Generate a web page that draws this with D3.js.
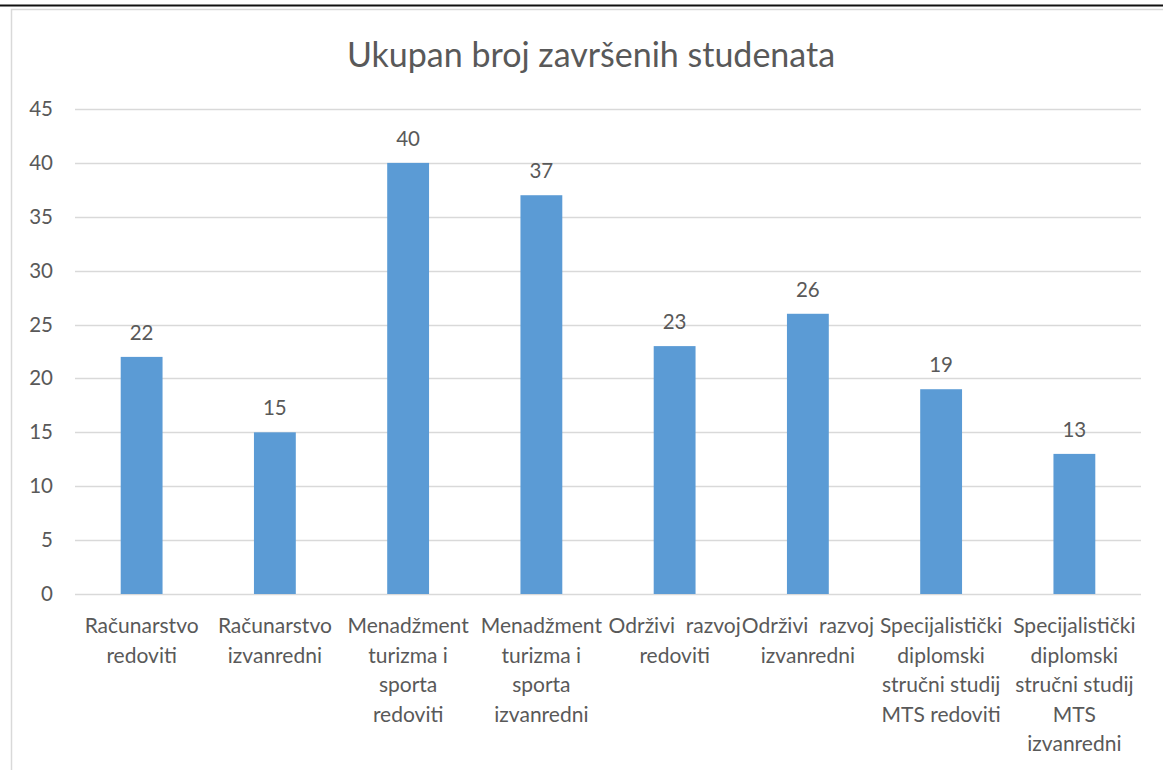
<!DOCTYPE html>
<html lang="hr">
<head>
    <meta charset="UTF-8">
    <title>Ukupan broj završenih studenata</title>
    <style>
        body { margin: 0; padding: 0; background: white; overflow: hidden; }
        text { font-family: "Lato", "Open Sans", sans-serif; fill: #595959; white-space: pre; }
    </style>
</head>
<body>
    <svg id="chart" width="1163" height="770"></svg>
    <script src="https://d3js.org/d3.v7.min.js"></script>
    <script>
        // data
        const categories = [
            ["Računarstvo", "redoviti"],
            ["Računarstvo", "izvanredni"],
            ["Menadžment", "turizma i", "sporta", "redoviti"],
            ["Menadžment", "turizma i", "sporta", "izvanredni"],
            ["Održivi  razvoj", "redoviti"],
            ["Održivi  razvoj", "izvanredni"],
            ["Specijalistički", "diplomski", "stručni studij", "MTS redoviti"],
            ["Specijalistički", "diplomski", "stručni studij", "MTS", "izvanredni"]
        ];
        const values = [22, 15, 40, 37, 23, 26, 19, 13];
        const yTicks = [0, 5, 10, 15, 20, 25, 30, 35, 40, 45];
        const title = "Ukupan broj završenih studenata";

        const BAR_COLOR = "#5b9bd5";
        const GRID_COLOR = "#d9d9d9";

        const svg = d3.select("#chart");

        // page rule and chart frame
        svg.append("line")
            .attr("x1", 0).attr("x2", 1163)
            .attr("y1", 5.5).attr("y2", 5.5)
            .attr("stroke", "#111").attr("stroke-width", 2);
        svg.append("rect")
            .attr("x", 11.5).attr("y", 9.5)
            .attr("width", 1170).attr("height", 780)
            .attr("fill", "white")
            .attr("stroke", GRID_COLOR).attr("stroke-width", 1.5);

        const margin = { left: 75, right: 1141, top: 109, bottom: 594 };

        const x = d3.scaleBand()
            .domain(d3.range(categories.length))
            .range([margin.left, margin.right])
            .paddingInner(0.686)
            .paddingOuter(0.343);

        const y = d3.scaleLinear()
            .domain([0, 45])
            .range([margin.bottom, margin.top]);

        // gridlines
        svg.append("g")
            .selectAll("line")
            .data(yTicks)
            .enter()
            .append("line")
            .attr("x1", margin.left).attr("x2", margin.right)
            .attr("y1", d => Math.round(y(d)) + 0.5)
            .attr("y2", d => Math.round(y(d)) + 0.5)
            .attr("stroke", GRID_COLOR)
            .attr("stroke-width", 1.5);

        // y tick labels
        svg.append("g")
            .selectAll("text")
            .data(yTicks)
            .enter()
            .append("text")
            .attr("x", 53)
            .attr("y", d => y(d) + 7)
            .attr("text-anchor", "end")
            .attr("font-size", "20.5px")
            .text(d => d);

        // bars
        svg.append("g")
            .selectAll("rect")
            .data(values)
            .enter()
            .append("rect")
            .attr("x", (d, i) => x(i))
            .attr("width", x.bandwidth())
            .attr("y", d => y(d))
            .attr("height", d => y(0) - y(d))
            .attr("fill", BAR_COLOR);

        // value labels
        svg.append("g")
            .selectAll("text")
            .data(values)
            .enter()
            .append("text")
            .attr("x", (d, i) => x(i) + x.bandwidth() / 2)
            .attr("y", d => y(d) - 17)
            .attr("text-anchor", "middle")
            .attr("font-size", "20.5px")
            .text(d => d);

        // category labels, one tspan per wrapped line
        const cat = svg.append("g")
            .selectAll("text")
            .data(categories)
            .enter()
            .append("text")
            .attr("text-anchor", "middle")
            .attr("font-size", "21px");
        cat.selectAll("tspan")
            .data((d, i) => d.map(t => ({ t: t, i: i })))
            .enter()
            .append("tspan")
            .attr("x", d => x(d.i) + x.bandwidth() / 2)
            .attr("y", (d, j) => 633 + j * 29.5)
            .text(d => d.t);

        // title
        svg.append("text")
            .attr("x", 591)
            .attr("y", 67)
            .attr("text-anchor", "middle")
            .attr("font-size", "34px")
            .text(title);
    </script>
</body>
</html>
